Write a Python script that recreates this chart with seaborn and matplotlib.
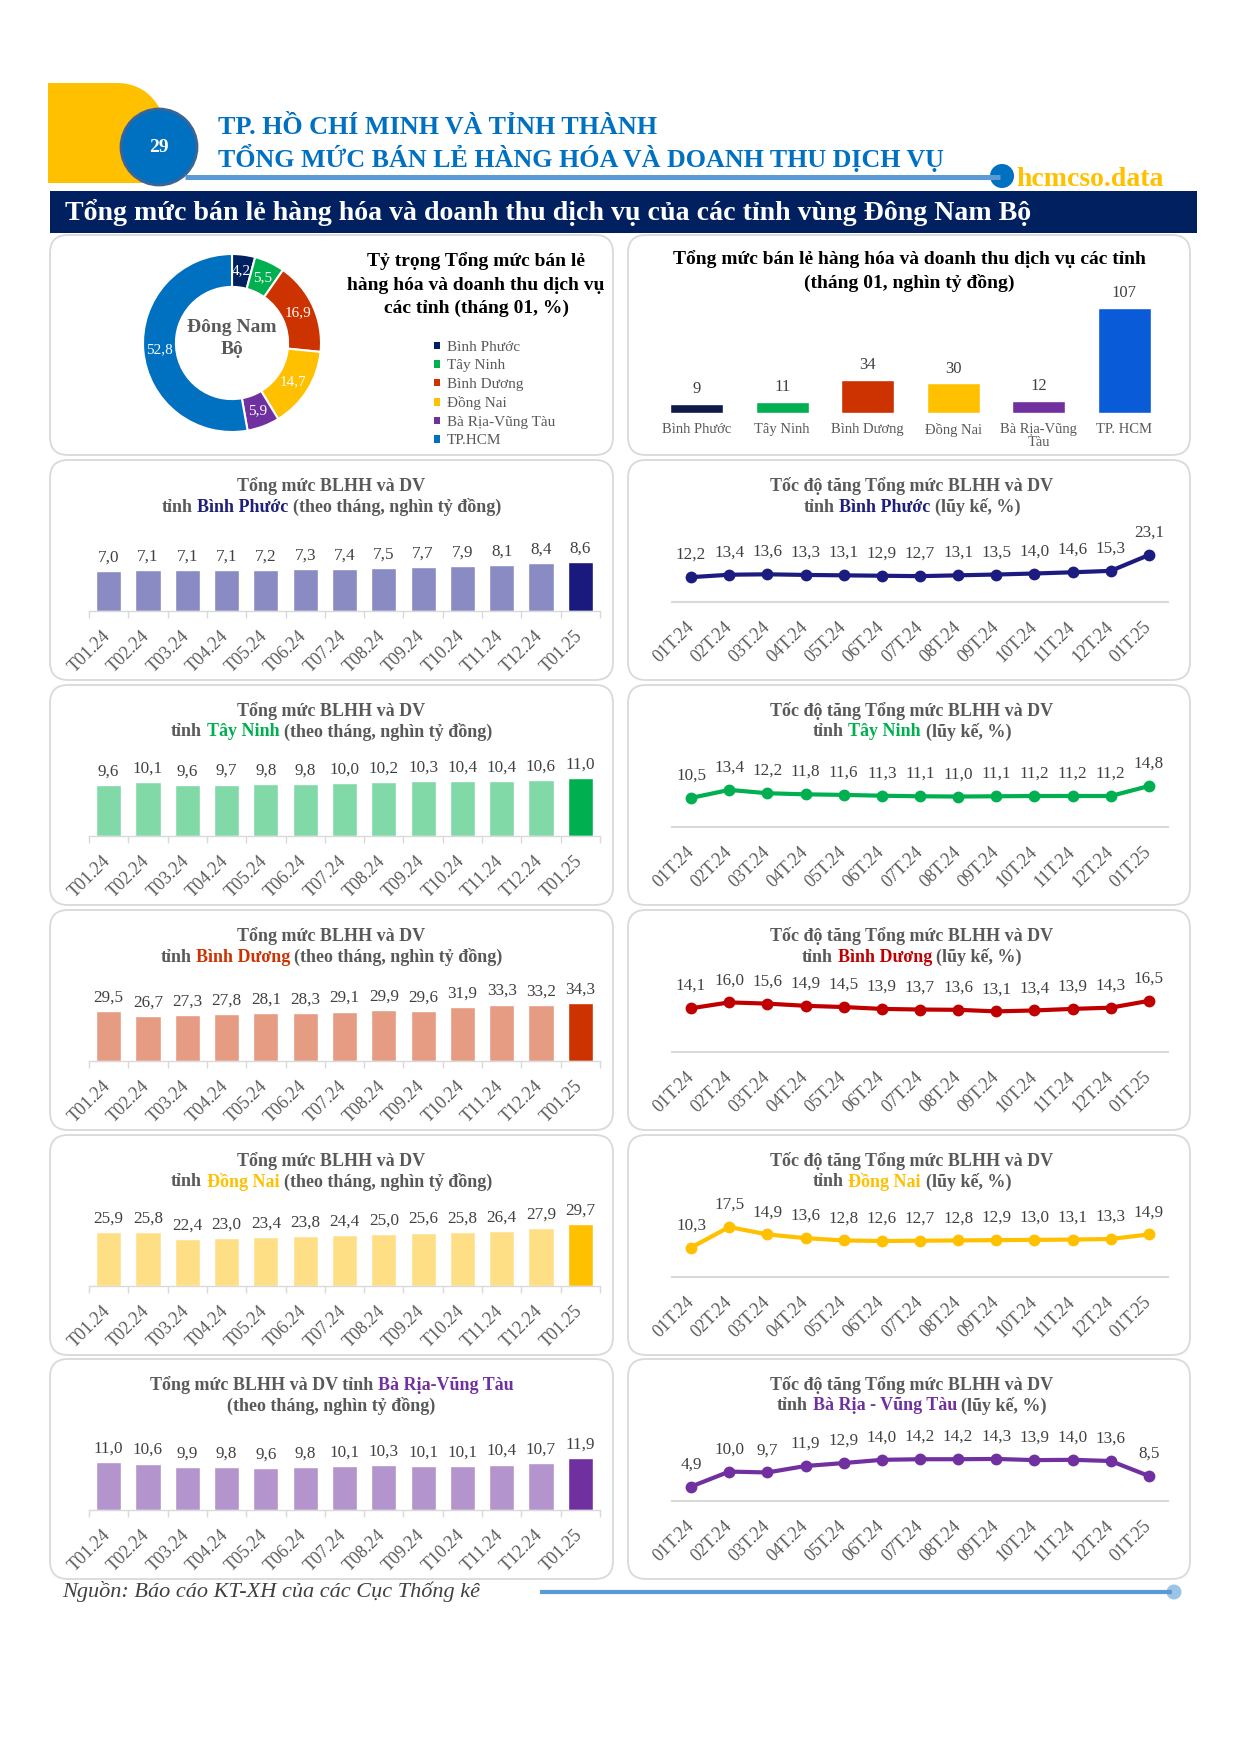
import numpy as np
import pandas as pd
import matplotlib
matplotlib.use("Agg")
import matplotlib.pyplot as plt
import seaborn as sns
from matplotlib.patches import FancyBboxPatch, Circle, PathPatch, Rectangle, Patch
from matplotlib.path import Path
from matplotlib.transforms import ScaledTranslation

# ------------------------------------------------------------------ data
months = ["T01.24", "T02.24", "T03.24", "T04.24", "T05.24", "T06.24", "T07.24",
          "T08.24", "T09.24", "T10.24", "T11.24", "T12.24", "T01.25"]
cum_periods = ["01T.24", "02T.24", "03T.24", "04T.24", "05T.24", "06T.24", "07T.24",
               "08T.24", "09T.24", "10T.24", "11T.24", "12T.24", "01T.25"]

provinces = ["Bình Phước", "Tây Ninh", "Bình Dương", "Đồng Nai", "Bà Rịa-Vũng Tàu", "TP.HCM"]
share_jan = [4.2, 5.5, 16.9, 14.7, 5.9, 52.8]

bar_categories = ["Bình Phước", "Tây Ninh", "Bình Dương", "Đồng Nai", "Bà Rịa-Vũng\nTàu", "TP. HCM"]
total_jan = [9, 11, 34, 30, 12, 107]

binh_phuoc_monthly = [7.0, 7.1, 7.1, 7.1, 7.2, 7.3, 7.4, 7.5, 7.7, 7.9, 8.1, 8.4, 8.6]
binh_phuoc_growth = [12.2, 13.4, 13.6, 13.3, 13.1, 12.9, 12.7, 13.1, 13.5, 14.0, 14.6, 15.3, 23.1]
tay_ninh_monthly = [9.6, 10.1, 9.6, 9.7, 9.8, 9.8, 10.0, 10.2, 10.3, 10.4, 10.4, 10.6, 11.0]
tay_ninh_growth = [10.5, 13.4, 12.2, 11.8, 11.6, 11.3, 11.1, 11.0, 11.1, 11.2, 11.2, 11.2, 14.8]
binh_duong_monthly = [29.5, 26.7, 27.3, 27.8, 28.1, 28.3, 29.1, 29.9, 29.6, 31.9, 33.3, 33.2, 34.3]
binh_duong_growth = [14.1, 16.0, 15.6, 14.9, 14.5, 13.9, 13.7, 13.6, 13.1, 13.4, 13.9, 14.3, 16.5]
dong_nai_monthly = [25.9, 25.8, 22.4, 23.0, 23.4, 23.8, 24.4, 25.0, 25.6, 25.8, 26.4, 27.9, 29.7]
dong_nai_growth = [10.3, 17.5, 14.9, 13.6, 12.8, 12.6, 12.7, 12.8, 12.9, 13.0, 13.1, 13.3, 14.9]
brvt_monthly = [11.0, 10.6, 9.9, 9.8, 9.6, 9.8, 10.1, 10.3, 10.1, 10.1, 10.4, 10.7, 11.9]
brvt_growth = [4.9, 10.0, 9.7, 11.9, 12.9, 14.0, 14.2, 14.2, 14.3, 13.9, 14.0, 13.6, 8.5]

# ------------------------------------------------------------------ style
sns.set_theme(style="white")
plt.rcParams["font.family"] = ["Liberation Serif", "DejaVu Serif"]

GRAY_T = "#595959"
GRAY_V = "#404040"
AXIS_C = "#D9D9D9"

donut_colors = ["#002060", "#00B050", "#CC3300", "#FFC000", "#7030A0", "#0070C0"]
total_colors = ["#0D1B45", "#00B050", "#CC3300", "#FFC000", "#7030A0", "#0A5BD8"]


def fmt_vn(v):
    return f"{v:.1f}".replace(".", ",")


W, H = 1240, 1754
fig = plt.figure(figsize=(W / 100, H / 100), dpi=100)
bg = fig.add_axes([0, 0, 1, 1])
bg.set_xlim(0, W)
bg.set_ylim(H, 0)
bg.axis("off")
renderer = fig.canvas.get_renderer()


def rect(x0, x1, ybot, h):
    return [x0 / W, 1 - ybot / H, (x1 - x0) / W, h / H]


def rich_line(xc, y, parts, size=13, weight="bold"):
    texts = [bg.text(0, y, s, color=c, fontsize=size, fontweight=weight,
                     ha="left", va="center") for s, c in parts]
    a = bg.text(0, 0, "x x", fontsize=size, fontweight=weight)
    b = bg.text(0, 0, "xx", fontsize=size, fontweight=weight)
    gap = a.get_window_extent(renderer).width - b.get_window_extent(renderer).width
    a.remove()
    b.remove()
    widths = [t.get_window_extent(renderer).width for t in texts]
    x = xc - (sum(widths) + gap * (len(texts) - 1)) / 2
    for t, w in zip(texts, widths):
        t.set_x(x)
        x += w + gap


def shift_ticklabels(ax, dx_px):
    off = ScaledTranslation(dx_px / 100, 0, fig.dpi_scale_trans)
    for lab in ax.get_xticklabels():
        lab.set_transform(lab.get_transform() + off)


# ------------------------------------------------------------------ header
verts = [(48, 83), (117, 83), (148, 83), (167, 108), (167, 140), (167, 183), (48, 183), (48, 83)]
codes = [Path.MOVETO, Path.LINETO, Path.CURVE4, Path.CURVE4, Path.CURVE4,
         Path.LINETO, Path.LINETO, Path.CLOSEPOLY]
bg.add_patch(PathPatch(Path(verts, codes), fc="#FFC000", ec="none"))
bg.plot([185, 1000], [177, 177], color="#5B9BD5", lw=3.6, solid_capstyle="butt")
bg.add_patch(Circle((159, 147), 38, fc="#0070C0", ec="#3C6497", lw=2))
bg.text(159, 148, "29", color="white", fontsize=14, fontweight="bold", ha="center", va="center")
bg.text(218, 128, "TP. HỒ CHÍ MINH VÀ TỈNH THÀNH", color="#0070C0", fontsize=18.8,
        fontweight="bold", ha="left", va="center")
bg.text(218, 158, "TỔNG MỨC BÁN LẺ HÀNG HÓA VÀ DOANH THU DỊCH VỤ", color="#0070C0",
        fontsize=18.7, fontweight="bold", ha="left", va="center")
bg.add_patch(Circle((1002, 176), 12, fc="#0070C0", ec="none"))
bg.text(1016, 180, "hcmcso.data", color="#FFC000", fontsize=20, fontweight="bold",
        ha="left", va="center")
bg.add_patch(Rectangle((50, 191), 1147, 42, fc="#002060", ec="none"))
bg.text(65, 212, "Tổng mức bán lẻ hàng hóa và doanh thu dịch vụ của các tỉnh vùng Đông Nam Bộ",
        color="white", fontsize=20.1, fontweight="bold", ha="left", va="center")

# ------------------------------------------------------------------ panels
LX0, LX1, RX0, RX1 = 50, 613, 628, 1190
tops = [235, 460, 685, 910, 1135, 1359]
PH = 220
for T in tops:
    for x0, x1 in [(LX0, LX1), (RX0, RX1)]:
        bg.add_patch(FancyBboxPatch((x0, T), x1 - x0, PH,
                                    boxstyle="round,pad=0,rounding_size=18",
                                    fc="white", ec=AXIS_C, lw=1.3))

# ---------------- donut
axd = fig.add_axes(rect(143, 321, 432, 178))
wedges, _ = axd.pie(share_jan, colors=donut_colors, startangle=90, counterclock=False,
                    radius=1, wedgeprops=dict(width=0.37, edgecolor="white", linewidth=1.5))
axd.set_xlim(-1, 1)
axd.set_ylim(-1, 1)
axd.set_aspect("equal")
for w, v in zip(wedges, share_jan):
    ang = np.deg2rad((w.theta1 + w.theta2) / 2)
    axd.text(0.815 * np.cos(ang), 0.815 * np.sin(ang), fmt_vn(v), ha="center", va="center",
             color="white", fontsize=11)
bg.text(232, 328, "Đông Nam", ha="center", va="center", color=GRAY_T, fontsize=14, fontweight="bold")
bg.text(232, 350, "Bộ", ha="center", va="center", color=GRAY_T, fontsize=14, fontweight="bold")

for yy, s in zip([261, 285, 308], ["Tỷ trọng Tổng mức bán lẻ", "hàng hóa và doanh thu dịch vụ",
                                     "các tỉnh (tháng 01, %)"]):
    bg.text(476, yy, s, ha="center", va="center", color="black", fontsize=14, fontweight="bold")
fig.legend(handles=[Patch(fc=c, ec="none") for c in donut_colors], labels=provinces,
           loc="upper left", bbox_to_anchor=(434 / W, 1 - 341 / H), frameon=False,
           fontsize=11, labelcolor=GRAY_T, handlelength=0.4, handleheight=0.4,
           handletextpad=0.45, labelspacing=0.36, borderpad=0, borderaxespad=0)

# ---------------- totals bar chart
axt = fig.add_axes(rect(654, 1167, 413, 130))
sns.barplot(x=bar_categories, y=total_jan, hue=bar_categories, palette=total_colors,
            legend=False, width=0.62, saturation=1, ax=axt)
for c in axt.containers:
    axt.bar_label(c, fmt="%d", padding=5, fontsize=12, color=GRAY_V)
axt.set_xlim(-0.5, 5.5)
axt.set_ylim(0, 132)
axt.set_facecolor("none")
for s in axt.spines.values():
    s.set_visible(False)
axt.set_yticks([])
axt.set_xlabel("")
axt.set_ylabel("")
axt.tick_params(axis="x", length=0, pad=7)
for lab in axt.get_xticklabels():
    lab.set_fontsize(10.5)
    lab.set_color(GRAY_T)
    lab.set_linespacing(1.0)
bg.text(909, 259, "Tổng mức bán lẻ hàng hóa và doanh thu dịch vụ các tỉnh",
        ha="center", va="center", color="black", fontsize=14, fontweight="bold")
bg.text(909, 283, "(tháng 01, nghìn tỷ đồng)",
        ha="center", va="center", color="black", fontsize=14, fontweight="bold")


# ---------------- province rows
def monthly_panel(T, values, light, dark, ymax, line1, line2):
    ax = fig.add_axes(rect(89, 600, T + 151, 80))
    df = pd.DataFrame({"month": months, "value": values})
    sns.barplot(data=df, x="month", y="value", hue="month", palette=[light] * 12 + [dark],
                legend=False, width=0.64, saturation=1, ax=ax)
    for c in ax.containers:
        ax.bar_label(c, fmt=fmt_vn, padding=4, fontsize=12.3, color=GRAY_V)
    ax.set_xlim(-0.5, 12.5)
    ax.set_ylim(0, ymax)
    ax.set_facecolor("none")
    for s in ["left", "right", "top"]:
        ax.spines[s].set_visible(False)
    ax.spines["bottom"].set_color(AXIS_C)
    ax.spines["bottom"].set_linewidth(1)
    ax.set_yticks([])
    ax.set_xlabel("")
    ax.set_ylabel("")
    ax.set_xticks(range(13))
    ax.set_xticklabels(months, rotation=45, ha="right", rotation_mode="anchor",
                       fontsize=13, color=GRAY_T)
    ax.set_xticks(np.arange(-0.5, 13, 1), minor=True)
    ax.tick_params(axis="x", which="major", length=0, pad=12)
    ax.tick_params(axis="x", which="minor", length=5, color=AXIS_C, width=1, bottom=True)
    shift_ticklabels(ax, -7)
    cx = (LX0 + LX1) / 2
    rich_line(cx, T + 26, line1)
    rich_line(cx, T + 47, line2)


def growth_panel(T, values, color, ymax, line1, line2):
    ax = fig.add_axes(rect(672, 1168, T + 142, 80))
    sns.lineplot(x=np.arange(13), y=values, color=color, lw=3, marker="o",
                 markersize=8.5, markeredgewidth=0, ax=ax)
    for i, v in enumerate(values):
        ax.annotate(fmt_vn(v), (i, v), xytext=(0, 16), textcoords="offset points",
                    ha="center", va="center", fontsize=12.3, color=GRAY_V)
    ax.set_xlim(-0.5, 12.5)
    ax.set_ylim(0, ymax)
    ax.set_facecolor("none")
    for s in ["left", "right", "top"]:
        ax.spines[s].set_visible(False)
    ax.spines["bottom"].set_color(AXIS_C)
    ax.spines["bottom"].set_linewidth(1.5)
    ax.set_yticks([])
    ax.set_xlabel("")
    ax.set_ylabel("")
    ax.set_xticks(range(13))
    ax.set_xticklabels(cum_periods, rotation=45, ha="right", rotation_mode="anchor",
                       fontsize=13, color=GRAY_T)
    ax.tick_params(axis="x", length=0, pad=12)
    shift_ticklabels(ax, -6)
    cx = (RX0 + RX1) / 2 + 3
    rich_line(cx, T + 26, line1)
    rich_line(cx, T + 47, line2)


rows = [
    ("Bình Phước", binh_phuoc_monthly, binh_phuoc_growth, "#8B8BC4", "#1A1A7E", "#1C1C80",
     "#1F1F7A", "#1F1F7A", 14.0, 39.3, "Bình Phước"),
    ("Tây Ninh", tay_ninh_monthly, tay_ninh_growth, "#80D9A7", "#00B050", "#00B050",
     "#00B050", "#00B050", 15.1, 28.9, "Tây Ninh"),
    ("Bình Dương", binh_duong_monthly, binh_duong_growth, "#E59C82", "#CC3300", "#C00000",
     "#CC3300", "#C00000", 47.2, 25.8, "Bình Dương"),
    ("Đồng Nai", dong_nai_monthly, dong_nai_growth, "#FFDF86", "#FFC000", "#FFC000",
     "#FFC000", "#FFC000", 38.4, 28.0, "Đồng Nai"),
    ("Bà Rịa-Vũng Tàu", brvt_monthly, brvt_growth, "#B394CC", "#7030A0", "#7030A0",
     "#7030A0", "#7030A0", 18.3, 27.2, "Bà Rịa - Vũng Tàu"),
]

for k, (name, mvals, gvals, light, dark, lcol, tcol_l, tcol_r, ymax_b, ymax_l, rname) in enumerate(rows):
    T = tops[k + 1]
    if k < 4:
        l1 = [("Tổng mức BLHH và DV", GRAY_T)]
        l2 = [("tỉnh", GRAY_T), (name, tcol_l), ("(theo tháng, nghìn tỷ đồng)", GRAY_T)]
    else:
        l1 = [("Tổng mức BLHH và DV tỉnh", GRAY_T), (name, tcol_l)]
        l2 = [("(theo tháng, nghìn tỷ đồng)", GRAY_T)]
    monthly_panel(T, mvals, light, dark, ymax_b, l1, l2)
    growth_panel(T, gvals, lcol, ymax_l,
                 [("Tốc độ tăng Tổng mức BLHH và DV", GRAY_T)],
                 [("tỉnh", GRAY_T), (rname, tcol_r), ("(lũy kế, %)", GRAY_T)])

# ------------------------------------------------------------------ footer
bg.text(62, 1592, "Nguồn: Báo cáo KT-XH của các Cục Thống kê", style="italic",
        fontsize=16, color=GRAY_V, ha="left", va="center")
bg.plot([540, 1172], [1592, 1592], color="#5B9BD5", lw=3, solid_capstyle="butt")
bg.add_patch(Circle((1174, 1592), 7.5, fc="#9DC3E6", ec="none"))

fig.savefig("out.png", dpi=100, facecolor="white")
